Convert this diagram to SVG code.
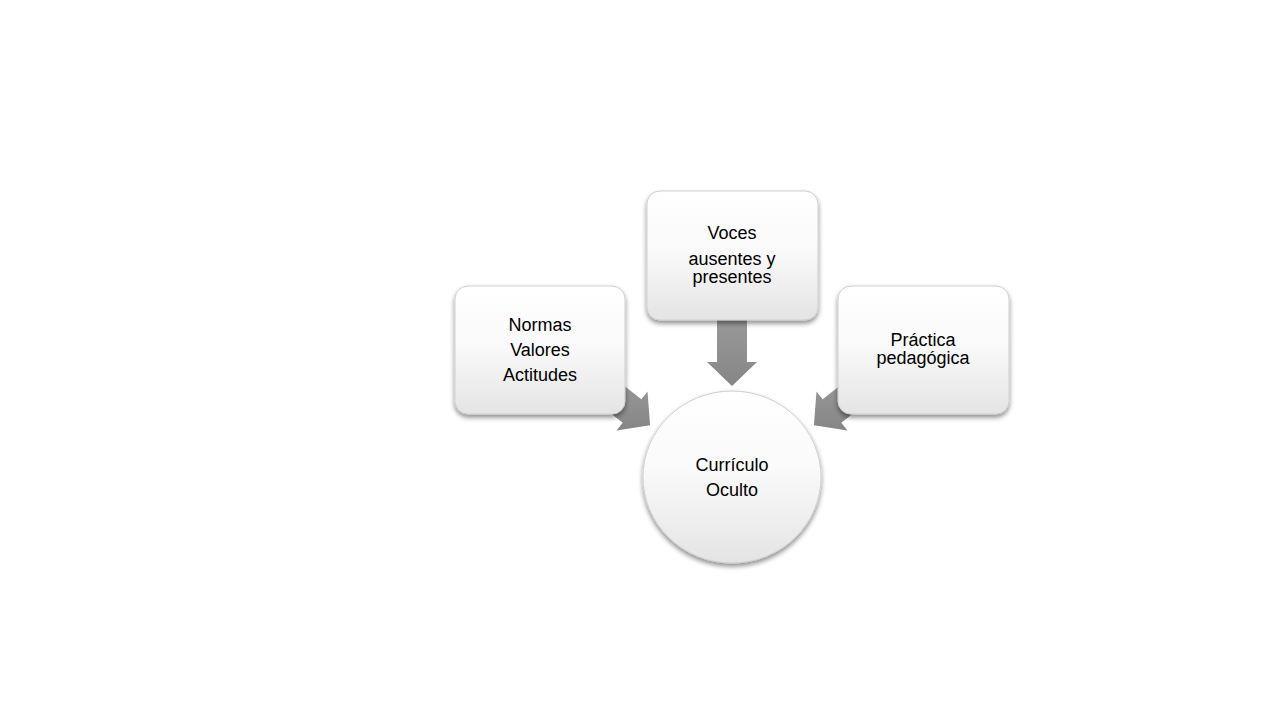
<svg xmlns="http://www.w3.org/2000/svg" width="1280" height="720" viewBox="0 0 1280 720">
  <defs>
    <linearGradient id="boxFill" x1="0" y1="0" x2="0" y2="1">
      <stop offset="0" stop-color="#ffffff"/>
      <stop offset="0.45" stop-color="#fafafa"/>
      <stop offset="1" stop-color="#e4e4e4"/>
    </linearGradient>
    <linearGradient id="arrowFill" x1="0" y1="0" x2="0" y2="1">
      <stop offset="0" stop-color="#9a9a9a"/>
      <stop offset="1" stop-color="#868686"/>
    </linearGradient>
    <filter id="shadow" x="-20%" y="-20%" width="140%" height="140%">
      <feGaussianBlur in="SourceAlpha" stdDeviation="2.5"/>
      <feOffset dx="0" dy="3" result="b"/>
      <feComponentTransfer><feFuncA type="linear" slope="0.45"/></feComponentTransfer>
      <feMerge><feMergeNode/><feMergeNode in="SourceGraphic"/></feMerge>
    </filter>
  </defs>
  <style>
    .box { fill: url(#boxFill); stroke: #cfcfcf; stroke-width: 1; filter: url(#shadow); }
    .arrow { fill: url(#arrowFill); stroke: none; }
    .label { font-family: "Liberation Sans", Arial, sans-serif; font-size: 18px; fill: #000000; text-anchor: middle; }
  </style>
  <rect width="1280" height="720" fill="#ffffff"/>

  <g id="connectors">
    <polygon class="arrow" points="717,315 747,315 747,362 757,362 732,386 707,362 717,362"/>
    <polygon class="arrow" points="591.3,398 622.7,422.8 616.5,430.6 650.1,425.3 647.5,391.4 641.3,399.2 609.9,374.4"/>
    <polygon class="arrow" points="872.7,398 841.3,422.8 847.5,430.6 813.9,425.3 816.5,391.4 822.7,399.2 854.1,374.4"/>
  </g>

  <g id="node-normas">
    <rect class="box" x="455" y="286" width="170" height="128" rx="13" ry="13"/>
    <text class="label" x="540" y="331">Normas</text>
    <text class="label" x="540" y="356">Valores</text>
    <text class="label" x="540" y="381">Actitudes</text>
  </g>

  <g id="node-voces">
    <rect class="box" x="647" y="191" width="171" height="129" rx="13" ry="13"/>
    <text class="label" x="732" y="239">Voces</text>
    <text class="label" x="732" y="265">ausentes y</text>
    <text class="label" x="732" y="283">presentes</text>
  </g>

  <g id="node-practica">
    <rect class="box" x="838" y="286" width="171" height="128" rx="13" ry="13"/>
    <text class="label" x="923" y="346">Práctica</text>
    <text class="label" x="923" y="364">pedagógica</text>
  </g>

  <g id="node-curriculo">
    <ellipse class="box" cx="732" cy="477" rx="89" ry="86"/>
    <text class="label" x="732" y="471">Currículo</text>
    <text class="label" x="732" y="496">Oculto</text>
  </g>
</svg>
